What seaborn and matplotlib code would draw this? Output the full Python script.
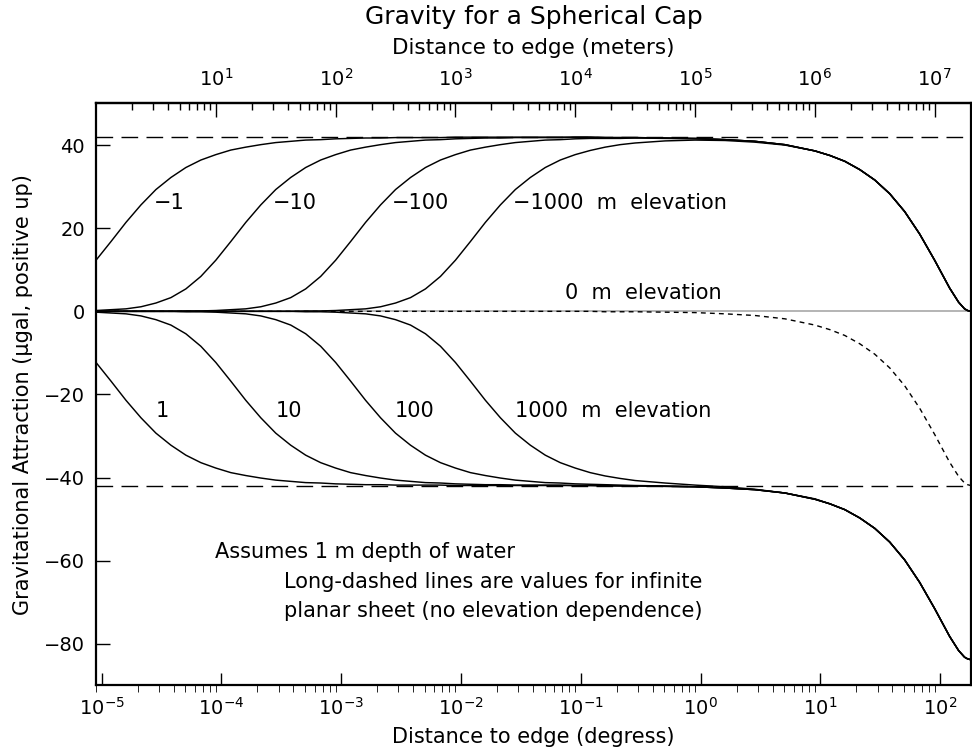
import numpy as np
import pandas as pd
import matplotlib
matplotlib.use("Agg")
import matplotlib.pyplot as plt
import seaborn as sns
from matplotlib.ticker import LogLocator, FixedLocator, NullLocator, NullFormatter

M_PER_DEG = 111195.0   # meters per degree of arc
SHEET = 41.9           # infinite planar sheet, 1 m of water (microgal)

# distance to edge of the cap, meters
dist_m = [1, 1.334, 1.778, 2.371, 3.162, 4.217, 5.623, 7.499,
          10, 13.34, 17.78, 23.71, 31.62, 42.17, 56.23, 74.99,
          100, 133.4, 177.8, 237.1, 316.2, 421.7, 562.3, 749.9,
          1000, 1334, 1778, 2371, 3162, 4217, 5623, 7499,
          1e4, 1.334e4, 1.778e4, 2.371e4, 3.162e4,
          5.623e4, 1e5, 1.778e5, 3.162e5, 5.623e5,
          1e6, 1.334e6, 1.778e6, 2.371e6, 3.162e6, 4.217e6, 5.623e6, 7.499e6,
          1e7, 1.334e7, 1.585e7, 1.778e7, 1.884e7, 2.0015e7]

up_tail = [40.9, 40.1, 38.6, 37.5, 36.1, 34.1, 31.6, 28.3, 24.0, 18.6,
           12.3, 5.6, 2.2, 0.6, 0.2, 0.0]
low_tail = [-42.9, -43.7, -45.2, -46.3, -47.7, -49.7, -52.2, -55.5, -59.8, -65.2,
            -71.5, -78.2, -81.6, -83.2, -83.6, -83.8]

# negative elevations (point below the sheet)
elev_m1 = [12.3, 16.8, 21.4, 25.6, 29.3, 32.2, 34.6, 36.4,
           37.7, 38.8, 39.5, 40.1, 40.6, 40.9, 41.2, 41.3,
           41.5, 41.6, 41.7, 41.7, 41.8, 41.8, 41.8, 41.8,
           41.9, 41.9, 41.9, 41.9, 41.9, 41.9, 41.9, 41.9,
           41.9, 41.9, 41.8, 41.8, 41.8,
           41.7, 41.6, 41.3] + up_tail
elev_m10 = [0.2, 0.4, 0.6, 1.1, 2.0, 3.3, 5.4, 8.4,
            12.3, 16.8, 21.4, 25.6, 29.3, 32.2, 34.6, 36.4,
            37.7, 38.8, 39.5, 40.1, 40.6, 40.9, 41.2, 41.3,
            41.5, 41.6, 41.7, 41.7, 41.8, 41.8, 41.8, 41.8,
            41.9, 41.9, 41.8, 41.8, 41.8,
            41.7, 41.6, 41.3] + up_tail
elev_m100 = [0.0, 0.0, 0.0, 0.0, 0.0, 0.0, 0.1, 0.1,
             0.2, 0.4, 0.6, 1.1, 2.0, 3.3, 5.4, 8.4,
             12.3, 16.8, 21.4, 25.6, 29.3, 32.2, 34.6, 36.4,
             37.7, 38.8, 39.5, 40.1, 40.6, 40.9, 41.2, 41.3,
             41.5, 41.6, 41.6, 41.6, 41.7,
             41.6, 41.5, 41.3] + up_tail
elev_m1000 = [0.0, 0.0, 0.0, 0.0, 0.0, 0.0, 0.0, 0.0,
              0.0, 0.0, 0.0, 0.0, 0.0, 0.0, 0.1, 0.1,
              0.2, 0.4, 0.6, 1.1, 2.0, 3.3, 5.4, 8.4,
              12.3, 16.8, 21.4, 25.6, 29.3, 32.2, 34.6, 36.4,
              37.7, 38.7, 39.5, 40.1, 40.5,
              41.0, 41.2, 41.1, 40.7, 40.0, 38.6, 37.5, 36.1, 34.1, 31.6, 28.3,
              24.0, 18.6, 12.3, 5.6, 2.2, 0.6, 0.2, 0.0]

# positive elevations (point above the sheet)
elev_p1 = [-12.3, -16.8, -21.4, -25.6, -29.3, -32.2, -34.6, -36.4,
           -37.7, -38.8, -39.5, -40.1, -40.6, -40.9, -41.2, -41.3,
           -41.5, -41.6, -41.7, -41.7, -41.8, -41.8, -41.8, -41.8,
           -41.9, -41.9, -41.9, -41.9, -41.9, -41.9, -41.9, -41.9,
           -41.9, -41.9, -42.0, -42.0, -42.0,
           -42.1, -42.2, -42.5] + low_tail
elev_p10 = [-0.2, -0.4, -0.6, -1.1, -2.0, -3.3, -5.4, -8.4,
            -12.3, -16.8, -21.4, -25.6, -29.3, -32.2, -34.6, -36.4,
            -37.7, -38.8, -39.5, -40.1, -40.6, -40.9, -41.2, -41.3,
            -41.5, -41.6, -41.7, -41.7, -41.8, -41.8, -41.8, -41.8,
            -41.9, -41.9, -41.9, -42.0, -42.0,
            -42.1, -42.2, -42.5] + low_tail
elev_p100 = [0.0, 0.0, 0.0, 0.0, 0.0, 0.0, -0.1, -0.1,
             -0.2, -0.4, -0.6, -1.1, -2.0, -3.3, -5.4, -8.4,
             -12.3, -16.8, -21.4, -25.6, -29.3, -32.2, -34.6, -36.4,
             -37.7, -38.8, -39.5, -40.1, -40.6, -40.9, -41.2, -41.3,
             -41.5, -41.6, -41.7, -41.8, -41.9,
             -42.0, -42.2, -42.5] + low_tail
elev_p1000 = [0.0, 0.0, 0.0, 0.0, 0.0, 0.0, 0.0, 0.0,
              0.0, 0.0, 0.0, 0.0, 0.0, 0.0, -0.1, -0.1,
              -0.2, -0.4, -0.6, -1.1, -2.0, -3.3, -5.4, -8.4,
              -12.3, -16.8, -21.4, -25.6, -29.3, -32.2, -34.6, -36.4,
              -37.7, -38.8, -39.6, -40.2, -40.7,
              -41.3, -41.8, -42.2, -42.8, -43.7, -45.1, -46.3, -47.7, -49.7, -52.2, -55.5,
              -59.8, -65.2, -71.5, -78.2, -81.6, -83.2, -83.6, -83.8]

# 0 m elevation (dotted)
elev_0 = [0.0] * 34 + [-0.1, -0.1, -0.1, -0.2, -0.3, -0.6, -1.0, -1.8,
                       -3.3, -4.4, -5.8, -7.8, -10.3, -13.6, -17.9, -23.3,
                       -29.6, -36.3, -39.7, -41.3, -41.7, -41.9]

curves = {"-1": elev_m1, "-10": elev_m10, "-100": elev_m100, "-1000": elev_m1000,
          "1": elev_p1, "10": elev_p10, "100": elev_p100, "1000": elev_p1000}

deg = np.array(dist_m) / M_PER_DEG
df = pd.concat([pd.DataFrame({"deg": deg, "value": v, "curve": k})
                for k, v in curves.items()], ignore_index=True)

sns.set_style("ticks")
plt.rcParams["font.family"] = ["DejaVu Sans"]
plt.rcParams["axes.linewidth"] = 1.6
for key in ["text.color", "axes.labelcolor", "xtick.color", "ytick.color", "axes.edgecolor"]:
    plt.rcParams[key] = "black"

fig = plt.figure(figsize=(9.72, 7.56), dpi=100)
ax = fig.add_axes([0.0988, 0.0933, 0.8999, 0.7698])

ax.axhline(0, color="#a8a8a8", lw=1.2, zorder=1)
ax.axhline(SHEET, color="black", lw=1.0, linestyle=(0, (12, 6)), zorder=2)
ax.axhline(-SHEET, color="black", lw=1.0, linestyle=(0, (12, 6)), zorder=2)

sns.lineplot(data=df, x="deg", y="value", units="curve", estimator=None,
             color="black", lw=1.05, sort=False, legend=False, ax=ax)
sns.lineplot(x=deg, y=elev_0, color="black", lw=1.0, linestyle=(0, (3.5, 3)),
             sort=False, legend=False, ax=ax)

ax.set_xscale("log")
ax.set_xlim(1 / M_PER_DEG, 180)
ax.set_ylim(-90, 50)
ax.set_yticks([-80, -60, -40, -20, 0, 20, 40])
ax.yaxis.set_minor_locator(NullLocator())
ax.xaxis.set_major_locator(FixedLocator([10.0 ** k for k in range(-5, 3)]))
ax.xaxis.set_minor_locator(LogLocator(base=10, subs=np.arange(2, 10), numticks=20))
ax.xaxis.set_minor_formatter(NullFormatter())
ax.tick_params(axis="both", direction="in", labelsize=14, width=1.0)
ax.tick_params(axis="x", which="major", length=9, top=False, pad=8)
ax.tick_params(axis="x", which="minor", length=5, top=False)
ax.tick_params(axis="y", length=10, right=False, pad=8)

ax.set_xlabel("Distance to edge (degress)", fontsize=15, labelpad=6)
ax.set_ylabel("Gravitational Attraction (μgal, positive up)", fontsize=15, labelpad=8)

top = ax.secondary_xaxis("top", functions=(lambda d: d * M_PER_DEG, lambda m: m / M_PER_DEG))
top.xaxis.set_major_locator(FixedLocator([10.0 ** k for k in range(1, 8)]))
top.xaxis.set_minor_locator(LogLocator(base=10, subs=np.arange(2, 10), numticks=20))
top.xaxis.set_minor_formatter(NullFormatter())
top.tick_params(axis="x", which="major", direction="in", length=10, width=1.0,
                labelsize=14, pad=10)
top.tick_params(axis="x", which="minor", direction="in", length=5, width=1.0)
top.set_xlabel("Distance to edge (meters)", fontsize=15.5, labelpad=10)

fig.text(0.5488, 0.993, "Gravity for a Spherical Cap", fontsize=18, ha="center", va="top")

# curve labels
lab = dict(fontsize=15, va="center", ha="left")
ax.text(2.71e-5, 26, "−1", **lab)
ax.text(2.71e-4, 26, "−10", **lab)
ax.text(2.66e-3, 26, "−100", **lab)
ax.text(2.71e-2, 26, "−1000  m  elevation", **lab)
ax.text(7.36e-2, 4.3, "0  m  elevation", **lab)
ax.text(2.82e-5, -24, "1", **lab)
ax.text(2.82e-4, -24, "10", **lab)
ax.text(2.82e-3, -24, "100", **lab)
ax.text(2.82e-2, -24, "1000  m  elevation", **lab)

ax.text(8.9e-5, -57.9, "Assumes 1 m depth of water", fontsize=15, va="center", ha="left")
ax.text(1.85e-2, -65.1, "Long-dashed lines are values for infinite", fontsize=15,
        va="center", ha="center")
ax.text(1.85e-2, -72.1, "planar sheet (no elevation dependence)", fontsize=15,
        va="center", ha="center")

fig.savefig("out.png", dpi=100)
